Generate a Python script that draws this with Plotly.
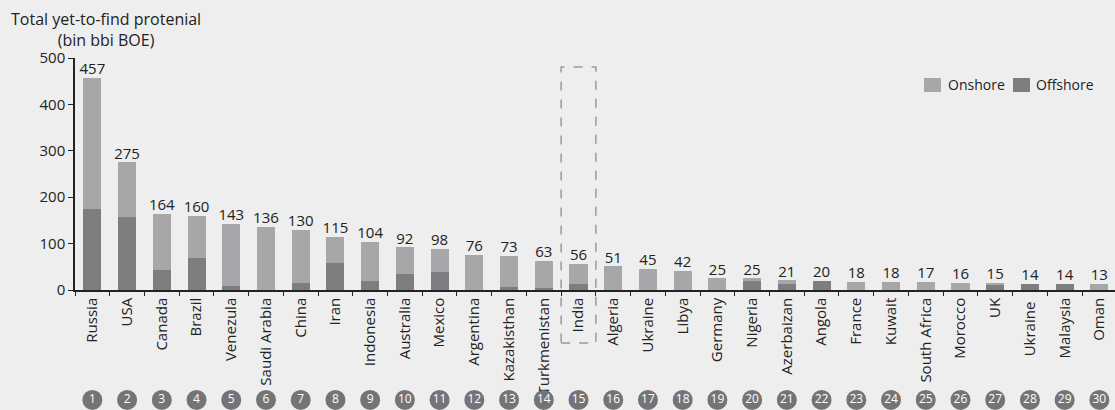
import plotly.graph_objects as go

countries = ["Russia", "USA", "Canada", "Brazil", "Venezula", "Saudi Arabia", "China", "Iran",
             "Indonesia", "Australia", "Mexico", "Argentina", "Kazakisthan", "Turkmenistan", "India",
             "Algeria", "Ukraine", "Libya", "Germany", "Nigeria", "Azerbaizan", "Angola", "France",
             "Kuwait", "South Africa", "Morocco", "UK", "Ukraine ", "Malaysia", "Oman"]
offshore = [174, 157, 43, 69, 8, 0, 15, 58, 19, 34, 39, 0, 7, 5, 13,
            0, 0, 0, 0, 21, 13, 20, 0, 0, 0, 0, 12, 14, 14, 0]
onshore = [283, 118, 121, 91, 135, 136, 115, 57, 85, 58, 50, 76, 66, 58, 43,
           51, 45, 42, 25, 4, 8, 0, 18, 18, 17, 16, 3, 0, 0, 13]
total_labels = ["457", "275", "164", "160", "143", "136", "130", "115", "104", "92", "98", "76",
                "73", "63", "56", "51", "45", "42", "25", "25", "21", "20", "18", "18", "17",
                "16", "15", "14", "14", "13"]
ranks = [str(i) for i in range(1, 31)]
y_ticks = [0, 100, 200, 300, 400, 500]

totals = [a + b for a, b in zip(onshore, offshore)]

ON_C = "#a7a7aa"
OFF_C = "#7e7e81"
CIRC_C = "#747477"
TXT = "#222222"
FONT = "Open Sans"

W, H = 1115, 410
ML, MT = 75, 58
PW, PH = W - ML, H - MT


def px(xp):
    return (xp - ML) / PW


def py(yp):
    return (H - yp) / PH


fig = go.Figure()
fig.add_trace(go.Bar(x=countries, y=offshore, name="Offshore", marker_color=OFF_C,
                     marker_line_width=0, width=0.52, showlegend=False))
fig.add_trace(go.Bar(x=countries, y=onshore, name="Onshore", marker_color=ON_C,
                     marker_line_width=0, width=0.52, showlegend=False))
fig.add_trace(go.Scatter(x=countries, y=totals, mode="text", text=total_labels,
                         textposition="top center", showlegend=False,
                         textfont=dict(size=15, color=TXT, family=FONT), cliponaxis=False))
fig.add_trace(go.Scatter(x=countries, y=[0.22] * 30, yaxis="y2", mode="markers+text",
                         text=ranks, textposition="middle center", showlegend=False,
                         marker=dict(size=20, color=CIRC_C, line_width=0),
                         textfont=dict(size=12, color="white", family=FONT), cliponaxis=False))

# India highlight box
fig.add_shape(type="rect", xref="x", yref="paper", x0=13.5, x1=14.5, y0=py(343), y1=py(67),
              line=dict(color="#9a9a9a", width=1.5, dash="dash"), fillcolor="rgba(0,0,0,0)")

# custom legend
for name, col, x0, tx in [("Onshore", ON_C, 924, 946), ("Offshore", OFF_C, 1013, 1034)]:
    fig.add_shape(type="rect", xref="paper", yref="paper", x0=px(x0), x1=px(x0 + 17),
                  y0=py(92), y1=py(78), fillcolor=col, line_width=0)
    fig.add_annotation(xref="paper", yref="paper", x=px(tx), y=py(85), xanchor="left",
                       yanchor="middle", text=name, showarrow=False,
                       font=dict(size=14, color=TXT, family=FONT))

fig.add_annotation(xref="paper", yref="paper", x=px(106), y=py(6), xanchor="center", yanchor="top",
                   text="Total yet-to-find protenial<br>(bin bbi BOE)", showarrow=False, align="center",
                   font=dict(size=16, color=TXT, family=FONT))

fig.update_layout(
    width=W, height=H,
    margin=dict(l=ML, r=0, t=MT, b=0, autoexpand=False),
    barmode="stack",
    paper_bgcolor="#eeeeee", plot_bgcolor="rgba(0,0,0,0)",
    font=dict(family=FONT, color=TXT, size=15),
    showlegend=False,
    xaxis=dict(type="category", range=[-0.5, 29.45], tickangle=-90, showgrid=False, automargin=False,
               showline=True, linecolor="#222", linewidth=1.5, ticks="outside", tickson="boundaries",
               ticklen=4, tickcolor="#222", tickfont=dict(size=15, color=TXT), anchor="y"),
    yaxis=dict(domain=[py(290), 1], range=[0, 500], tickvals=y_ticks, showgrid=False, zeroline=False,
               automargin=False,
               showline=True, linecolor="#222", linewidth=1.5, ticks="outside", ticklen=5,
               tickcolor="#222", tickfont=dict(size=15, color=TXT)),
    yaxis2=dict(domain=[0, 0.13], range=[0, 1], visible=False, anchor="x", automargin=False),
)

fig.write_html("out.html", post_script="document.body.style.margin='0px';",
               config={"displayModeBar": False})
